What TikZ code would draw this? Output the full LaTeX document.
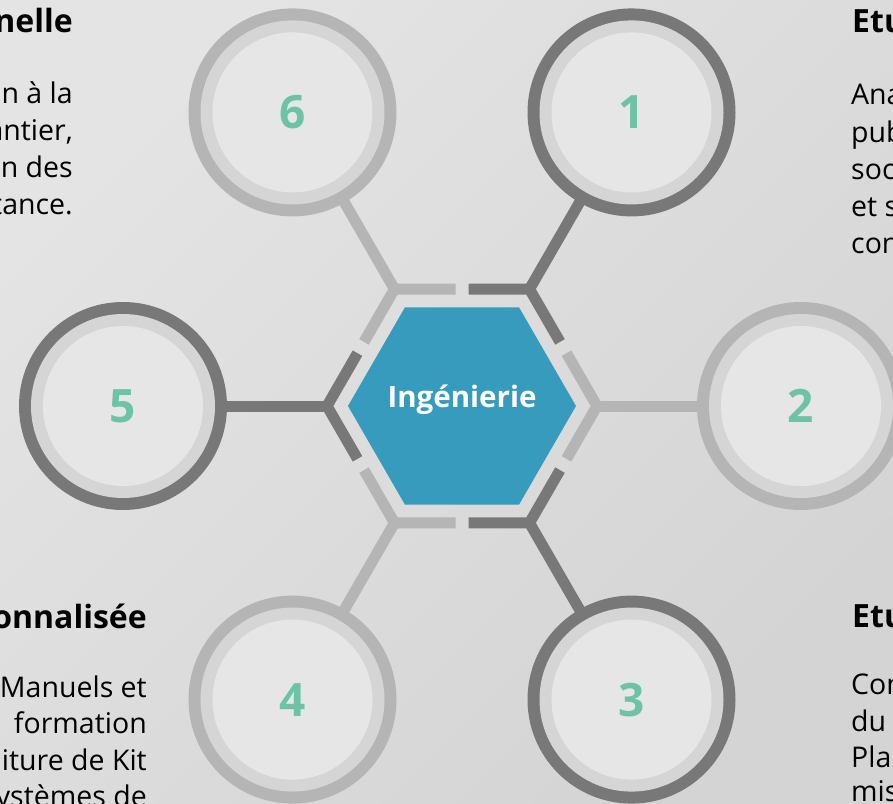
\documentclass[tikz,border=0pt]{standalone}
\usepackage{fontspec}
\setmainfont{Open Sans}

\definecolor{bgtop}{HTML}{E4E4E4}
\definecolor{bgmid}{HTML}{D8D8D8}
\definecolor{bgbot}{HTML}{D4D4D4}
\definecolor{ringdark}{HTML}{787878}
\definecolor{ringlight}{HTML}{B5B5B5}
\definecolor{band}{HTML}{D5D5D5}
\definecolor{disclight}{HTML}{E6E6E6}
\definecolor{hubblue}{HTML}{379BBD}
\definecolor{numgreen}{HTML}{6DC3A5}

\begin{document}
\begin{tikzpicture}[x=1pt, y=1pt,
	arm/.style={line width=11pt, line join=miter},
	disc/.style={circle, fill=disclight, minimum size=160pt, inner sep=0pt, text=numgreen, font=\bfseries\fontsize{46}{46}\selectfont},
	head/.style={inner sep=0pt, font=\bfseries\fontsize{32}{38}\selectfont},
	body/.style={inner sep=0pt, font=\fontsize{28.5}{34}\selectfont}]

	% background
	\useasboundingbox (-462,-397) rectangle (431,406);
	\clip (-462,-397) rectangle (431,406);
	\shade[top color=bgtop, middle color=bgmid, bottom color=bgbot, shading angle=45] (-462,-397) rectangle (431,406);

	% spokes and ring around the hub
	\foreach \k/\a/\col in {1/60/ringdark, 2/0/ringlight, 3/-60/ringdark, 4/-120/ringlight, 5/180/ringdark, 6/120/ringlight} {
		\coordinate (v\k) at (\a:135);
		\coordinate (p\k) at (\a:339);
		\draw[arm, \col] (v\k) -- (p\k);
		\draw[arm, \col] (v\k) ++(\a+120:61) -- (v\k) -- ++(\a-120:61);
	}

	% numbered circles
	\foreach \k/\col in {1/ringdark, 2/ringlight, 3/ringdark, 4/ringlight, 5/ringdark, 6/ringlight} {
		\fill[\col] (p\k) circle (104);
		\fill[band] (p\k) circle (92);
		\node[disc] (c\k) at (p\k) {\k};
	}

	% hub
	\fill[hubblue] (0:114) -- (60:114) -- (120:114) -- (180:114) -- (240:114) -- (300:114) -- cycle;
	\node[anchor=base, inner sep=0pt, text=white, font=\bfseries\fontsize{29.5}{30}\selectfont] (hub) at (0,-1) {Ingénierie};

	% texts top left
	\node[head, anchor=base east] (h6) at (-389,373) {nelle};
	\node[body, anchor=base east] (b6a) at (-389,302) {n à la};
	\node[body, anchor=base east] (b6b) at (-389,265) {antier,};
	\node[body, anchor=base east] (b6c) at (-389,228) {n des};
	\node[body, anchor=base east] (b6d) at (-389,191) {tance.};

	% texts bottom left
	\node[head, anchor=base east] (h4) at (-315,-222) {onnalisée};
	\node[body, anchor=base east] (b4a) at (-315,-291) {Manuels et};
	\node[body, anchor=base east] (b4b) at (-315,-327) {formation};
	\node[body, anchor=base east] (b4c) at (-315,-364) {iture de Kit};
	\node[body, anchor=base east] (b4d) at (-315,-400) {ystèmes de};

	% texts top right
	\node[head, anchor=base west] (h1) at (390,373) {Etu};
	\node[body, anchor=base west] (b1a) at (389,301) {Ana};
	\node[body, anchor=base west] (b1b) at (389,263) {pub};
	\node[body, anchor=base west] (b1c) at (389,226) {soc};
	\node[body, anchor=base west] (b1d) at (389,189) {et s};
	\node[body, anchor=base west] (b1e) at (389,152) {con};

	% texts bottom right
	\node[head, anchor=base west] (h3) at (390,-221) {Etu};
	\node[body, anchor=base west] (b3a) at (389,-288) {Con};
	\node[body, anchor=base west] (b3b) at (389,-325) {du};
	\node[body, anchor=base west] (b3c) at (389,-361) {Pla};
	\node[body, anchor=base west] (b3d) at (389,-395) {mis};

\end{tikzpicture}
\end{document}
